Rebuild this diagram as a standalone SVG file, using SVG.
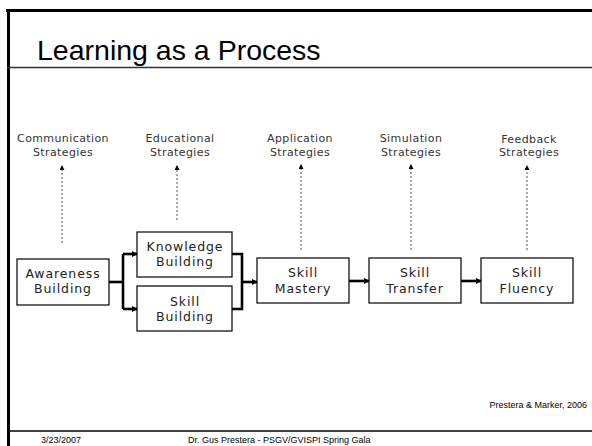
<svg xmlns="http://www.w3.org/2000/svg" width="592" height="446" viewBox="0 0 592 446">
<defs>
<style>
.title{font-family:"Liberation Sans",Arial,sans-serif;font-size:28.5px;fill:#000}
.lbl{font-family:"DejaVu Sans",Verdana,sans-serif;font-size:11px;letter-spacing:0.4px;fill:#333;text-anchor:middle}
.box rect{fill:#fff;stroke:#000;stroke-width:1.2}
.box text{font-family:"DejaVu Sans",Verdana,sans-serif;font-size:12.5px;letter-spacing:0.9px;fill:#222;text-anchor:middle}
.dot{stroke:#555;stroke-width:1;stroke-dasharray:2,2;fill:none}
.flow{stroke:#000;stroke-width:2.6;fill:none}
.foot{font-family:"Liberation Sans",Arial,sans-serif;font-size:9px;fill:#000}
</style>
<marker id="ah" markerWidth="6" markerHeight="6" refX="5" refY="3" orient="auto" markerUnits="userSpaceOnUse">
<path d="M0,0 L6,3 L0,6 Z" fill="#000"/>
</marker>
<marker id="ahs" markerWidth="5" markerHeight="5" refX="4" refY="2.5" orient="auto" markerUnits="userSpaceOnUse">
<path d="M0,0 L5,2.5 L0,5 Z" fill="#000"/>
</marker>
</defs>
<rect width="592" height="446" fill="#fff"/>
<g id="frame">
<line x1="6" y1="10.5" x2="592" y2="10.5" stroke="#000" stroke-width="3"/>
<line x1="8.5" y1="9" x2="8.5" y2="446" stroke="#000" stroke-width="3"/>
<line x1="7" y1="67.5" x2="592" y2="67.5" stroke="#333" stroke-width="1.5"/>
<line x1="7" y1="431" x2="592" y2="431" stroke="#000" stroke-width="1.5"/>
</g>
<text class="title" x="37" y="59.5">Learning as a Process</text>
<g id="labels">
<text class="lbl" x="63" y="142">Communication</text>
<text class="lbl" x="63" y="156">Strategies</text>
<text class="lbl" x="180" y="142">Educational</text>
<text class="lbl" x="180" y="156">Strategies</text>
<text class="lbl" x="300" y="142">Application</text>
<text class="lbl" x="300" y="156">Strategies</text>
<text class="lbl" x="411" y="142">Simulation</text>
<text class="lbl" x="411" y="156">Strategies</text>
<text class="lbl" x="529" y="143">Feedback</text>
<text class="lbl" x="529" y="156">Strategies</text>
</g>
<g id="connectors">
<line class="dot" x1="62" y1="243" x2="62" y2="166" marker-end="url(#ahs)"/>
<line class="dot" x1="177" y1="220" x2="177" y2="166" marker-end="url(#ahs)"/>
<line class="dot" x1="301" y1="250" x2="301" y2="165" marker-end="url(#ahs)"/>
<line class="dot" x1="411" y1="250" x2="411" y2="165" marker-end="url(#ahs)"/>
<line class="dot" x1="527" y1="250" x2="527" y2="166" marker-end="url(#ahs)"/>
<polyline class="flow" points="109,282 123,282"/>
<polyline class="flow" points="123,254 123,309"/>
<polyline class="flow" points="123,254 137,254" marker-end="url(#ah)"/>
<polyline class="flow" points="123,309 137,309" marker-end="url(#ah)"/>
<polyline class="flow" points="232,254 242,254 242,309 232,309"/>
<polyline class="flow" points="242,282 257,282" marker-end="url(#ah)"/>
<polyline class="flow" points="349,281 369,281" marker-end="url(#ah)"/>
<polyline class="flow" points="461,281 481,281" marker-end="url(#ah)"/>
</g>
<g id="awareness" class="box">
<rect x="17" y="259" width="92" height="46"/>
<text x="63" y="278">Awareness</text>
<text x="63" y="293">Building</text>
</g>
<g id="knowledge" class="box">
<rect x="137" y="232" width="95" height="45"/>
<text x="185" y="251">Knowledge</text>
<text x="185" y="266">Building</text>
</g>
<g id="skillbuilding" class="box">
<rect x="137" y="286" width="95" height="45"/>
<text x="185" y="306">Skill</text>
<text x="185" y="321">Building</text>
</g>
<g id="mastery" class="box">
<rect x="257" y="258" width="92" height="45"/>
<text x="303" y="277">Skill</text>
<text x="303" y="293">Mastery</text>
</g>
<g id="transfer" class="box">
<rect x="369" y="258" width="92" height="45"/>
<text x="415" y="277">Skill</text>
<text x="415" y="293">Transfer</text>
</g>
<g id="fluency" class="box">
<rect x="481" y="258" width="92" height="45"/>
<text x="527" y="277">Skill</text>
<text x="527" y="293">Fluency</text>
</g>
<text class="foot" x="587" y="408" text-anchor="end">Prestera &amp; Marker, 2006</text>
<text class="foot" x="41" y="443">3/23/2007</text>
<text class="foot" x="188" y="443">Dr. Gus Prestera - PSGV/GVISPI Spring Gala</text>
</svg>
